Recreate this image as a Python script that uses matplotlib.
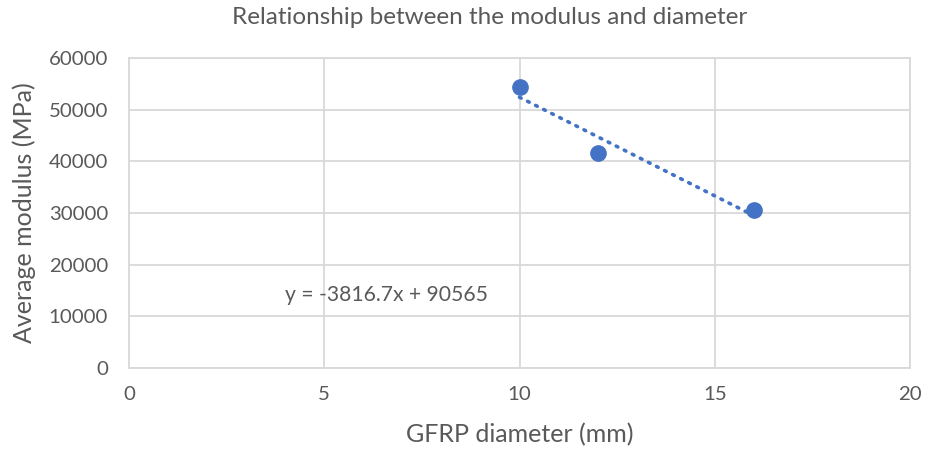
import numpy as np
import matplotlib
matplotlib.use("Agg")
from matplotlib import pyplot as plt

# Datos
diameter = [10, 12, 16]          # GFRP diameter (mm)
modulus = [54450, 41670, 30520]  # Average modulus (MPa)
slope, intercept = -3816.7, 90565
eq_text = "y = -3816.7x + 90565"
eq_pos = (4.0, 14100)

blue = "#4472C4"
grey_txt = "#595959"
grid_c = "#D9D9D9"

plt.rcParams["font.family"] = ["Lato", "DejaVu Sans"]

fig = plt.figure(figsize=(9.32, 4.55), dpi=100)
ax = fig.add_axes([129 / 932, 1 - 368 / 455, (910 - 129) / 932, (368 - 58) / 455])

ax.set_xlim(0, 20)
ax.set_ylim(0, 60000)
ax.set_xticks(np.arange(0, 21, 5))
ax.set_yticks(np.arange(0, 60001, 10000))
ax.grid(True, color=grid_c, linewidth=1.3)
ax.set_axisbelow(True)
for s in ax.spines.values():
    s.set_color(grid_c)
    s.set_linewidth(1.3)
ax.tick_params(length=0, labelsize=14.7, labelcolor=grey_txt)
ax.tick_params(axis="x", pad=13)
ax.tick_params(axis="y", pad=15)

# línea de tendencia
xt = np.array([min(diameter), max(diameter)])
ax.plot(xt, slope * xt + intercept, linestyle=(0, (0.5, 2.0)), color=blue,
        linewidth=2.6, dash_capstyle="round")
ax.plot(diameter, modulus, "o", color=blue, markersize=11, zorder=3)

ax.text(eq_pos[0], eq_pos[1], eq_text, fontsize=15.2, color=grey_txt, va="center")

ax.set_xlabel("GFRP diameter (mm)", fontsize=18, color=grey_txt, labelpad=14)
ax.set_ylabel("Average modulus (MPa)", fontsize=18, color=grey_txt, labelpad=9)
fig.text(0.525, 1 - 18 / 455, "Relationship between the modulus and diameter",
         fontsize=17.5, color=grey_txt, ha="center", va="center")

fig.savefig("out.png", dpi=100)
